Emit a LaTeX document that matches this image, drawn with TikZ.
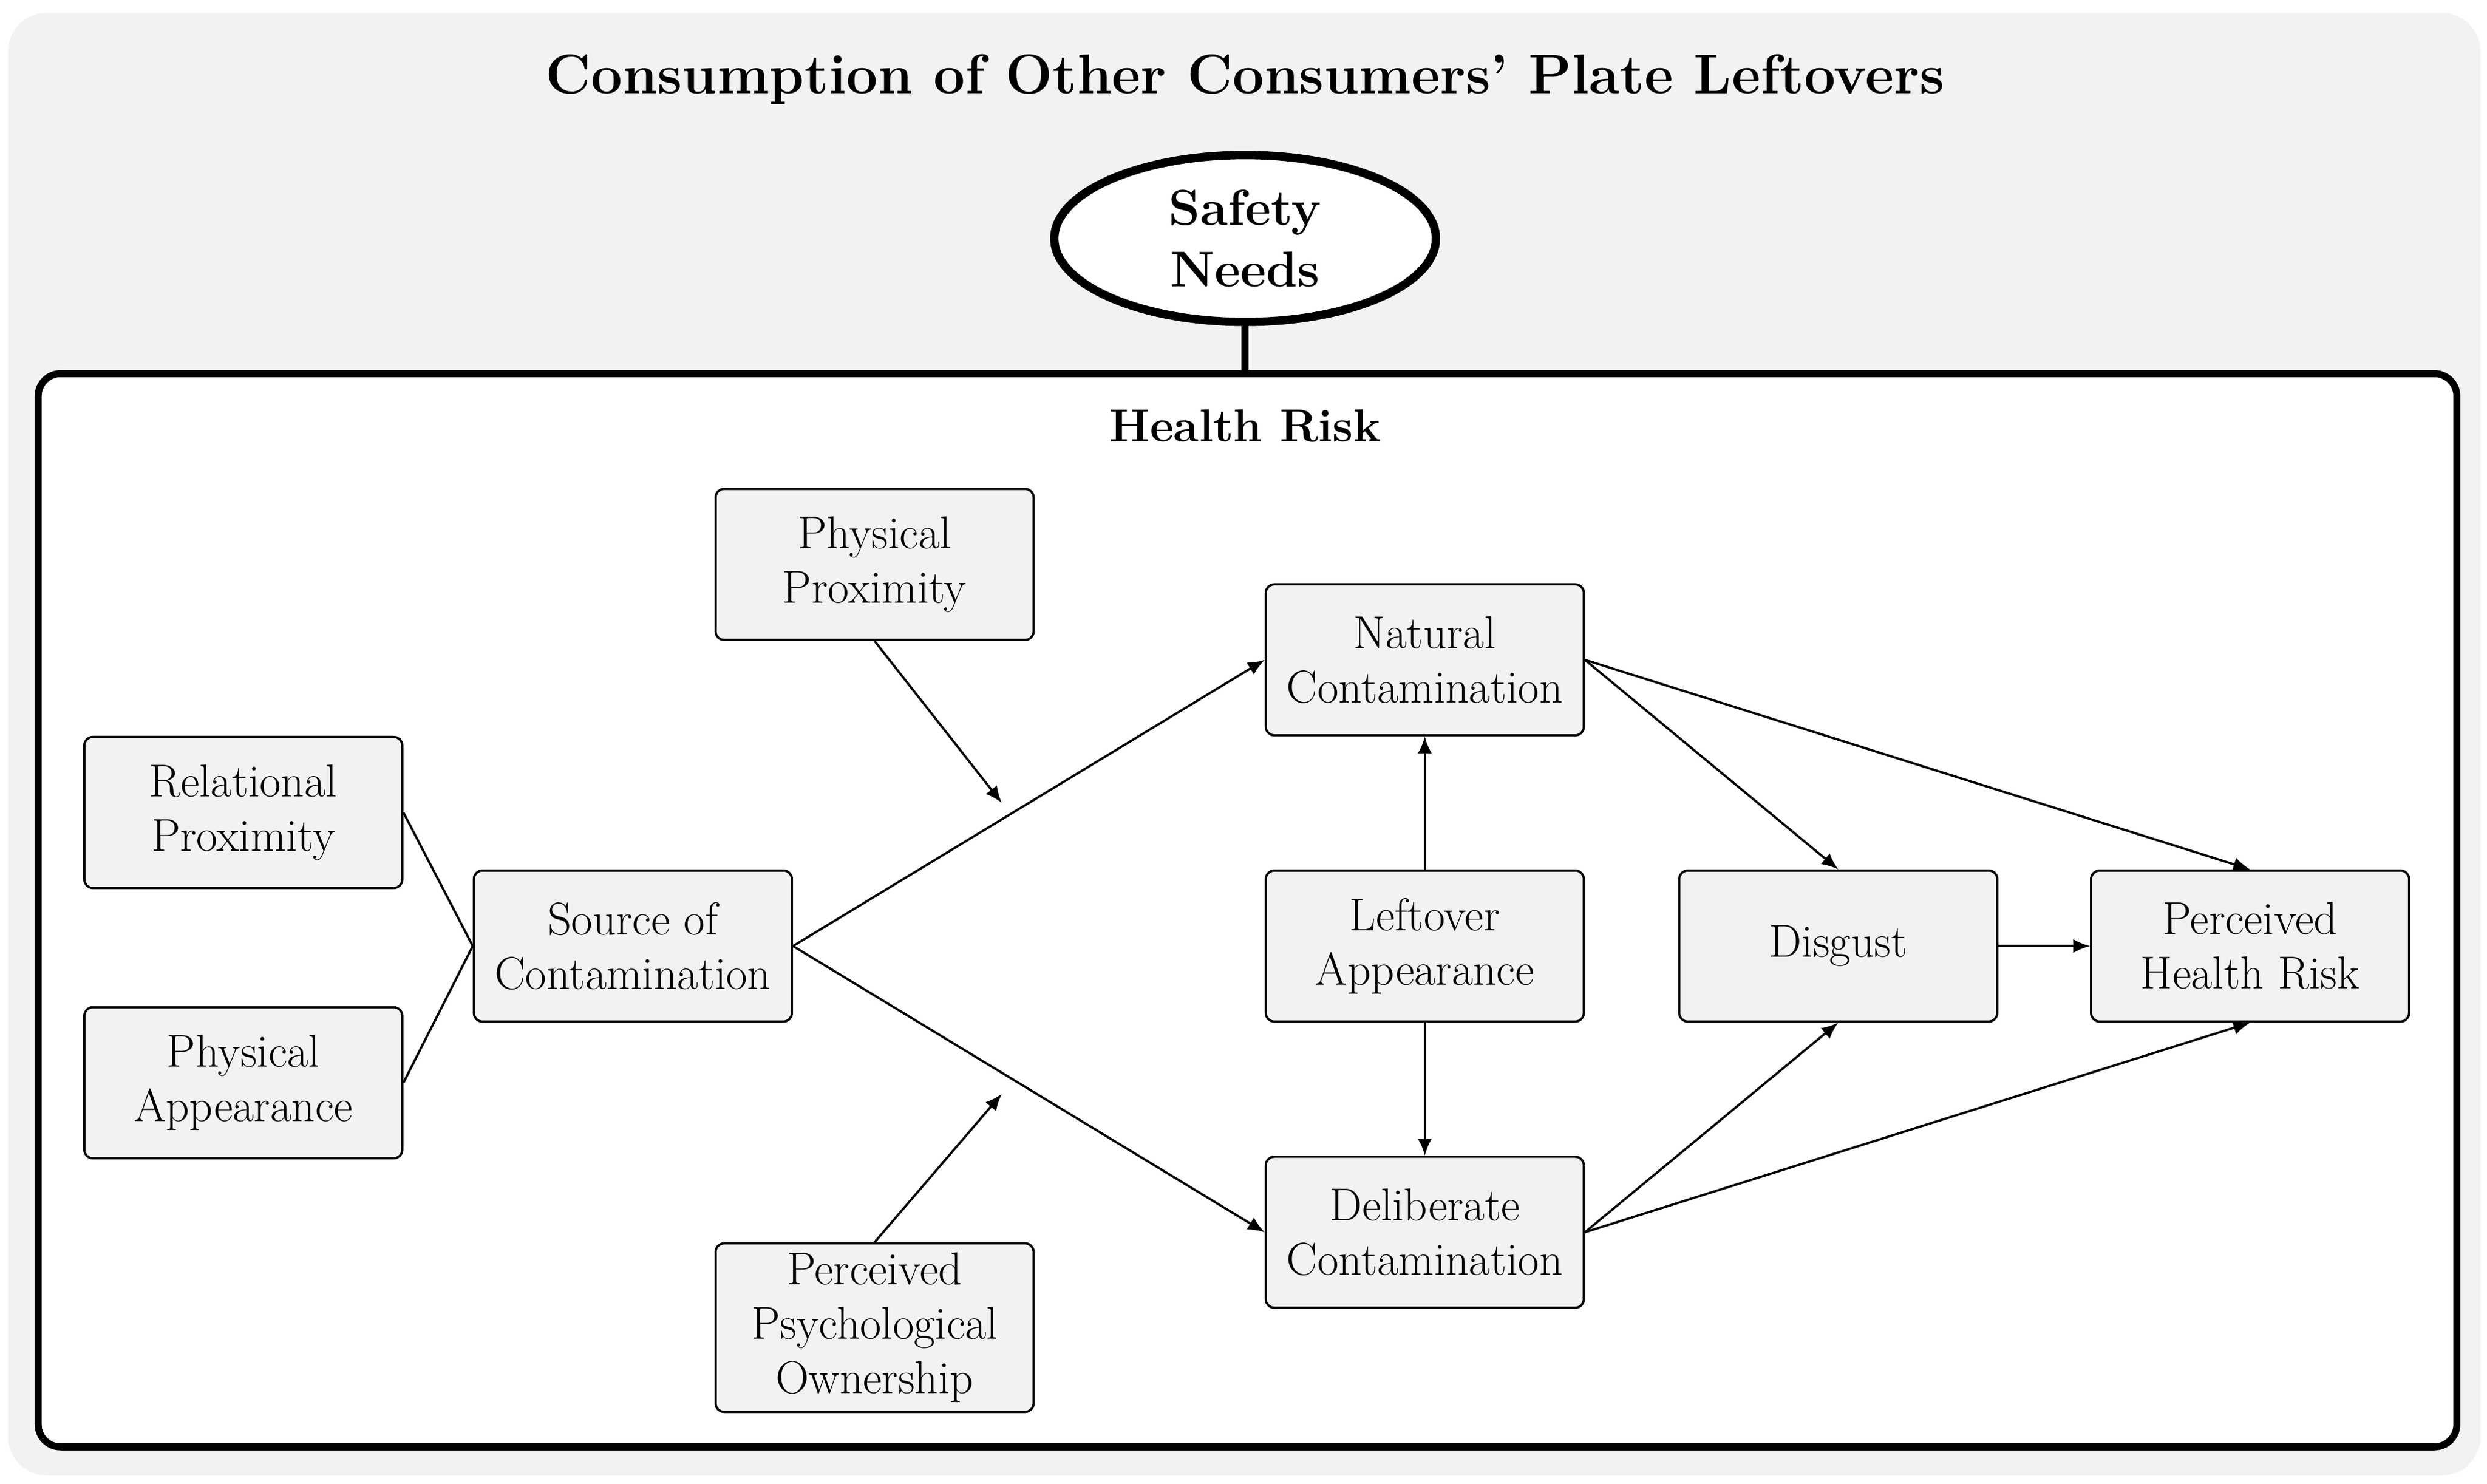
\documentclass[tikz,border=0pt]{standalone}
\usetikzlibrary{shapes.geometric,arrows.meta}
\definecolor{boxgray}{RGB}{242,242,242}
\tikzset{
  factor/.style={draw, thick, fill=boxgray, rounded corners=3pt, minimum width=4cm, minimum height=1.9cm, align=center, font=\fontsize{16.5}{19.5}\selectfont},
  link/.style={thick, -{Latex[length=6pt,width=5pt]}},
}
\begin{document}
\begin{tikzpicture}[x=0.02cm,y=-0.02cm]
				\useasboundingbox (0,0) rectangle (1564,933);
				\fill[boxgray, rounded corners=14pt] (5,8) rectangle (1560,928);
				\node (title) [font=\bfseries\fontsize{20}{24}\selectfont] at (783,50){Consumption of Other Consumers' Plate Leftovers};
				\node (safety)[draw, ellipse, line width=3pt, fill=white, minimum width=4.8cm, minimum height=2.1cm, align=center, font=\bfseries\fontsize{18}{22}\selectfont] at (783,150){Safety\\Needs};
				\draw[line width=2.5pt, fill=white, rounded corners=8pt] (24,235) rectangle (1545,910);
				\coordinate (top) at (783,235);
				\draw[line width=2.5pt] (safety.south) -- (top);
				\node (health)[font=\bfseries\fontsize{16.5}{20}\selectfont] at (783,268){Health Risk};
				%
				\node (rel)[factor] at (153,511){Relational\\Proximity};
				\node (app)[factor] at (153,681){Physical\\Appearance};
				\node (src)[factor] at (398,595){Source of\\Contamination};
				\node (prox)[factor] at (550,355){Physical\\Proximity};
				\node (own)[factor] at (550,835){Perceived\\Psychological\\Ownership};
				\node (nat)[factor] at (896,415){Natural\\Contamination};
				\node (left)[factor] at (896,595){Leftover\\Appearance};
				\node (del)[factor] at (896,775){Deliberate\\Contamination};
				\node (dis)[factor] at (1156,595){Disgust};
				\node (phr)[factor] at (1415,595){Perceived\\Health Risk};
				%
				\coordinate (m1) at (630,505);
				\coordinate (m2) at (630,688);
				\draw[thick] (rel.east) -- (src.west) -- (app.east);
				\draw[link] (src.east) -- (nat.west);
				\draw[link] (src.east) -- (del.west);
				\draw[link] (prox.south) -- (m1);
				\draw[link] (own.north) -- (m2);
				\draw[link] (left.north) -- (nat.south);
				\draw[link] (left.south) -- (del.north);
				\draw[link] (nat.east) -- (dis.north);
				\draw[link] (nat.east) -- (phr.north);
				\draw[link] (del.east) -- (dis.south);
				\draw[link] (del.east) -- (phr.south);
				\draw[link] (dis.east) -- (phr.west);
\end{tikzpicture}
\end{document}
